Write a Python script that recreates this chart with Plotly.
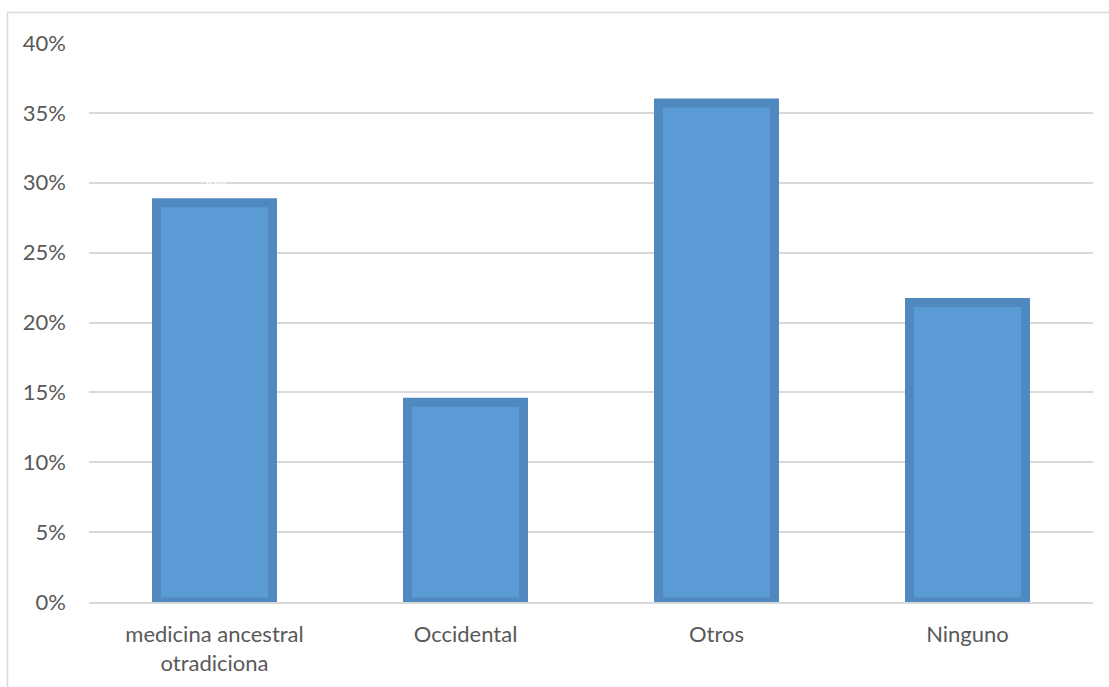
import plotly.graph_objects as go

categories = ["medicina ancestral<br>otradiciona", "Occidental", "Otros", "Ninguno"]
shares = [0.2857, 0.1429, 0.3571, 0.2143]
tick_values = [0, 0.05, 0.10, 0.15, 0.20, 0.25, 0.30, 0.35, 0.40]
tick_labels = ["0%", "5%", "10%", "15%", "20%", "25%", "30%", "35%", "40%"]

W, H = 1109, 687
L, R, T, B = 89, 16, 43, 85
pw, ph = W - L - R, H - T - B

FONT = "Lato, 'Open Sans', sans-serif"
GRID = "#d9d9d9"
TXT = "#595959"

fig = go.Figure(
    go.Bar(
        x=categories,
        y=shares,
        width=0.462,
        marker=dict(color="#5b9bd5", line=dict(color="#4f89c0", width=9)),
        hoverinfo="skip",
    )
)

# faint white value label above the first bar
fig.add_annotation(
    x=categories[0], y=shares[0], text="29%", showarrow=False,
    yshift=18, font=dict(family=FONT, size=14, color="#ffffff"),
)

# outer chart frame (left and top edges)
def px_x(p):
    return (p - L) / pw

def px_y(p):
    return (H - B - p) / ph

fig.add_shape(type="line", xref="paper", yref="paper",
              x0=px_x(7.5), x1=px_x(1115), y0=px_y(12.5), y1=px_y(12.5),
              line=dict(color=GRID, width=1.5))
fig.add_shape(type="line", xref="paper", yref="paper",
              x0=px_x(7.5), x1=px_x(7.5), y0=px_y(12.5), y1=px_y(700),
              line=dict(color=GRID, width=1.5))

fig.update_layout(
    width=W, height=H,
    margin=dict(l=L, r=R, t=T, b=B),
    paper_bgcolor="white", plot_bgcolor="white",
    font=dict(family=FONT, size=22, color=TXT),
    showlegend=False,
)
fig.update_xaxes(
    showgrid=False, showline=True, linecolor=GRID, linewidth=1.5,
    ticks="", ticklabelstandoff=12, tickfont=dict(size=22, color=TXT),
)
fig.update_yaxes(
    range=[0, 0.4], tickvals=tick_values, ticktext=tick_labels,
    showgrid=True, gridcolor=GRID, gridwidth=1.5, zeroline=False,
    showline=False, ticks="", ticklabelstandoff=22,
    tickfont=dict(size=22, color=TXT),
)

fig.write_html("out.html")
